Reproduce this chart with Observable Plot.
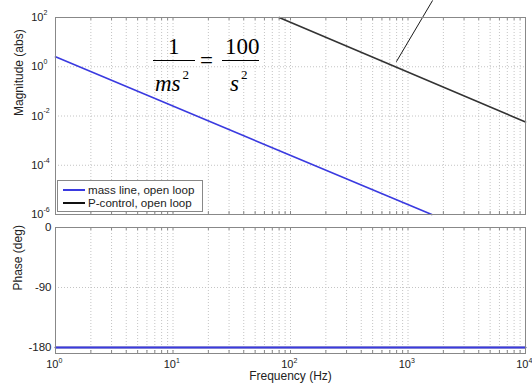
<!DOCTYPE html>
<html><head><meta charset="utf-8">
<script src="https://cdn.jsdelivr.net/npm/d3@7"></script>
<script src="https://cdn.jsdelivr.net/npm/@observablehq/plot@0.6"></script>
<style>
body{margin:0;background:#fff;}
#wrap{position:relative;width:532px;height:385px;overflow:hidden;font-family:"Liberation Sans",Arial,sans-serif;}
#topPanel,#botPanel{position:absolute;left:0;}
#topPanel{top:0;} #botPanel{top:220px;}
.f{position:absolute;font-family:"Liberation Serif","Times New Roman",serif;font-size:23px;color:#000;line-height:1;white-space:nowrap;}
.i{font-style:italic;}
.sup{font-size:13px;position:relative;top:-12px;margin-left:2px;font-style:normal;}
.bar{position:absolute;height:1.3px;background:#000;}
#legend{position:absolute;left:57px;top:180px;width:144px;height:30px;border:1px solid #888;background:#fff;font-size:11.6px;}
.row{position:absolute;left:5px;height:13px;line-height:13px;white-space:nowrap;color:#222;}
.sw{display:inline-block;width:22px;height:0;border-top:2px solid;vertical-align:middle;margin-right:3px;position:relative;top:-1px;}
</style></head>
<body>
<div id="wrap">
  <div id="topPanel"></div>
  <div id="botPanel"></div>
</div>
<script>
// ---- data ----
const massFreq = [1, 1592];          // Hz
const massMag  = [2.53, 1e-6];       // abs
const pFreq    = [80, 10000];        // Hz
const pMag     = [100, 0.0057];      // abs
const phaseFreq = [1, 10000];
const massPhase = [-180, -180];
const pPhase    = [-180, -180];
const seriesNames = ["mass line, open loop", "P-control, open loop"];
const seriesColors = ["#3a3ae0", "#333333"];
const xDecades = [1, 10, 100, 1000, 10000];
const magTicks = [1e2, 1, 1e-2, 1e-4, 1e-6];
const phaseTicks = [0, -90, -180];
const annotFreq = [796, 1620];
const annotMag = [1.6, 494];

const minorFreqs = [];
for (const d of [1, 10, 100, 1000]) for (let k = 1; k <= 9; k++) minorFreqs.push(d * k);
minorFreqs.push(10000);

const exp10 = d => String(Math.round(Math.log10(d)));
const mass = massFreq.map((f,i)=>({f, m: massMag[i]}));
const pc = pFreq.map((f,i)=>({f, m: pMag[i]}));
const massP = phaseFreq.map((f,i)=>({f, p: massPhase[i]}));
const pcP = phaseFreq.map((f,i)=>({f, p: pPhase[i]}));
const font = "Liberation Sans, Arial, sans-serif";
const gridStyle = {stroke: "#c4c4c4", strokeOpacity: 1, strokeDasharray: "1,2"};

const magPlot = Plot.plot({
  width: 532, height: 220,
  marginLeft: 55, marginRight: 7, marginTop: 17, marginBottom: 6,
  style: {fontFamily: font, background: "transparent", overflow: "visible"},
  x: {type: "log", domain: [1, 1e4], axis: null},
  y: {type: "log", domain: [1e-6, 1e2], axis: null},
  marks: [
    Plot.gridX(minorFreqs, gridStyle),
    Plot.gridY(magTicks, gridStyle),
    Plot.tickX(minorFreqs, {stroke: "#888", insetTop: 194}),
    Plot.tickX(minorFreqs, {stroke: "#888", insetBottom: 194}),
    Plot.line(mass, {x: "f", y: "m", stroke: seriesColors[0], strokeWidth: 1.6}),
    Plot.line(pc, {x: "f", y: "m", stroke: seriesColors[1], strokeWidth: 1.6}),
    Plot.link([0], {x1: () => annotFreq[0], y1: () => annotMag[0], x2: () => annotFreq[1], y2: () => annotMag[1], stroke: "#000", strokeWidth: 0.9}),
    Plot.frame({stroke: "#888", strokeWidth: 1}),
    Plot.text(magTicks, {y: d => d, frameAnchor: "left", dx: -12, text: () => "10", textAnchor: "end", fontSize: 11, fill: "#222"}),
    Plot.text(magTicks, {y: d => d, frameAnchor: "left", dx: -12, dy: -5, text: exp10, textAnchor: "start", fontSize: 7, fill: "#222"}),
    Plot.text(["Magnitude (abs)"], {frameAnchor: "left", dx: -36, rotate: -90, text: d => d, fontSize: 12, fill: "#222"})
  ]
});
document.getElementById("topPanel").appendChild(magPlot);

const phasePlot = Plot.plot({
  width: 532, height: 165,
  marginLeft: 55, marginRight: 7, marginTop: 7, marginBottom: 32,
  style: {fontFamily: font, background: "transparent", overflow: "visible"},
  x: {type: "log", domain: [1, 1e4], axis: null},
  y: {domain: [-189, 0], axis: null},
  marks: [
    Plot.gridX(minorFreqs, gridStyle),
    Plot.gridY([-90], gridStyle),
    Plot.tickX(minorFreqs, {stroke: "#888", insetTop: 123}),
    Plot.tickX(minorFreqs, {stroke: "#888", insetBottom: 123}),
    Plot.line(pcP, {x: "f", y: "p", stroke: seriesColors[1], strokeWidth: 1.6}),
    Plot.line(massP, {x: "f", y: "p", stroke: seriesColors[0], strokeWidth: 1.8}),
    Plot.frame({stroke: "#888", strokeWidth: 1}),
    Plot.text(phaseTicks, {y: d => d, frameAnchor: "left", dx: -4, text: d => String(d), textAnchor: "end", fontSize: 11.5, fill: "#222"}),
    Plot.text(xDecades, {x: d => d, frameAnchor: "bottom", dx: 3, dy: 14, text: () => "10", textAnchor: "end", fontSize: 11, fill: "#222"}),
    Plot.text(xDecades, {x: d => d, frameAnchor: "bottom", dx: 3, dy: 9, text: exp10, textAnchor: "start", fontSize: 7, fill: "#222"}),
    Plot.text(["Phase (deg)"], {frameAnchor: "left", dx: -37, rotate: -90, text: d => d, fontSize: 12, fill: "#222"}),
    Plot.text(["Frequency (Hz)"], {frameAnchor: "bottom", dy: 26, text: d => d, fontSize: 12, fill: "#222"})
  ]
});
document.getElementById("botPanel").appendChild(phasePlot);

// formula annotation and legend
const wrap = document.getElementById("wrap");
wrap.insertAdjacentHTML("beforeend", `
  <div class="f" style="left:168px;top:35px;">1</div>
  <div class="bar" style="left:153px;top:60px;width:42px;"></div>
  <div class="f" style="left:155px;top:72px;"><span class="i">ms</span><span class="sup">2</span></div>
  <div class="f" style="left:200px;top:49px;">=</div>
  <div class="f" style="left:225px;top:35px;">100</div>
  <div class="bar" style="left:222px;top:60px;width:37px;"></div>
  <div class="f" style="left:230px;top:72px;"><span class="i">s</span><span class="sup">2</span></div>
  <div id="legend">
    <div class="row" style="top:2px;"><span class="sw" style="border-color:${seriesColors[0]}"></span>${seriesNames[0]}</div>
    <div class="row" style="top:15px;"><span class="sw" style="border-color:#111"></span>${seriesNames[1]}</div>
  </div>`);
</script>
</body></html>
